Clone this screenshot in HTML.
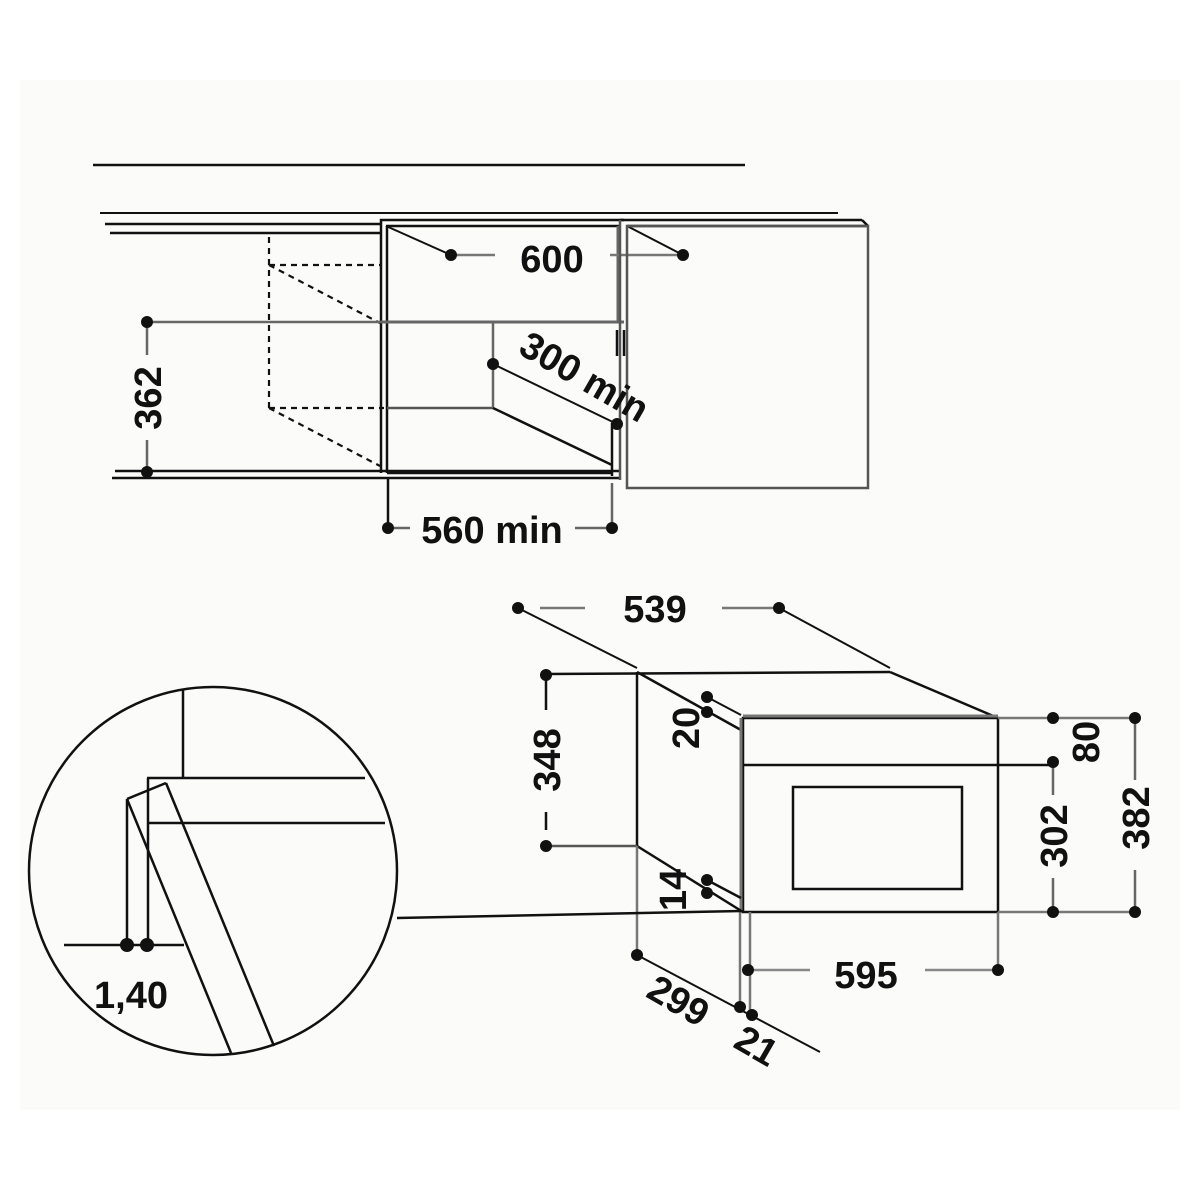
<!DOCTYPE html>
<html><head><meta charset="utf-8"><style>
html,body{margin:0;padding:0;background:#fff;}
svg{display:block;}
text{font-family:"Liberation Sans",Arial,sans-serif;font-weight:bold;fill:#111;}
</style></head><body>
<svg width="1200" height="1200" viewBox="0 0 1200 1200" xmlns="http://www.w3.org/2000/svg">
<rect x="20" y="80" width="1160" height="1030" fill="#fbfbfa"/>
<g stroke="#111" stroke-width="2.5" fill="none">
<line x1="93" y1="165" x2="745" y2="165"/>
<line x1="100" y1="213" x2="838" y2="213" stroke-width="2"/>
<line x1="105" y1="224" x2="381" y2="224"/>
<line x1="110" y1="233" x2="381" y2="233"/>
<polyline points="381,473 381,220 624,220"/>
<line x1="386" y1="226" x2="620" y2="226"/>
<line x1="387" y1="226" x2="387" y2="473"/>
<line x1="387" y1="473" x2="612" y2="473"/>
<line x1="381" y1="322" x2="624" y2="322" stroke="#666" stroke-width="3"/>
<line x1="618" y1="226" x2="618" y2="322" stroke="#666" stroke-width="3"/>
<line x1="617" y1="330" x2="617" y2="356"/><line x1="624" y1="330" x2="624" y2="356"/>
<line x1="387" y1="408" x2="493" y2="408" stroke="#555"/>
<line x1="493" y1="322" x2="493" y2="408" stroke="#666"/>
<line x1="493" y1="408" x2="612" y2="465"/>
<line x1="493" y1="364" x2="617" y2="424" stroke-width="2"/>
<line x1="386" y1="226" x2="451" y2="255" stroke-width="2"/>
<line x1="451" y1="255" x2="495" y2="255" stroke="#777"/>
<line x1="610" y1="255" x2="683" y2="255" stroke="#777"/>
<line x1="627" y1="226" x2="683" y2="255" stroke-width="2"/>
<g stroke-dasharray="6,5" stroke-width="2.2">
<line x1="269" y1="237" x2="269" y2="408"/>
<line x1="269" y1="265" x2="380" y2="265"/>
<line x1="269" y1="265" x2="380" y2="323"/>
<line x1="269" y1="408" x2="384" y2="408"/>
<line x1="269" y1="408" x2="380" y2="466"/>
</g>
<line x1="147" y1="322" x2="381" y2="322" stroke="#666"/>
<line x1="147" y1="322" x2="147" y2="355" stroke="#666"/>
<line x1="147" y1="440" x2="147" y2="472" stroke="#666"/>
<line x1="115" y1="471" x2="620" y2="471"/>
<line x1="112" y1="478" x2="620" y2="478"/>
<line x1="620" y1="220" x2="862" y2="220"/>
<line x1="627" y1="226" x2="868" y2="226"/>
<line x1="862" y1="220" x2="868" y2="226"/>
<rect x="627" y="226" width="241" height="262" stroke="#555"/>
<line x1="620" y1="220" x2="620" y2="480" stroke="#555"/>
<line x1="612" y1="423" x2="612" y2="476"/>
<line x1="388" y1="478" x2="388" y2="528"/>
<line x1="612" y1="483" x2="612" y2="528" stroke="#666"/>
<line x1="388" y1="528" x2="410" y2="528" stroke="#666"/>
<line x1="575" y1="528" x2="612" y2="528" stroke="#666"/>

<line x1="518" y1="608" x2="637" y2="668" stroke-width="2"/>
<line x1="779" y1="608" x2="890" y2="668" stroke-width="2"/>
<line x1="540" y1="608" x2="585" y2="608" stroke="#777"/>
<line x1="722" y1="608" x2="779" y2="608" stroke="#777"/>
<line x1="546" y1="674" x2="890" y2="672"/>
<line x1="637" y1="672" x2="637" y2="846"/>
<line x1="637" y1="672" x2="741" y2="730"/>
<line x1="890" y1="672" x2="998" y2="718"/>
<rect x="743" y="718" width="255" height="194"/>
<line x1="743" y1="716" x2="998" y2="716" stroke="#777" stroke-width="3"/>
<line x1="741" y1="718" x2="741" y2="912" stroke="#777" stroke-width="3"/>
<line x1="743" y1="765" x2="1053" y2="765"/>
<rect x="793" y="787" width="169" height="102"/>
<line x1="546" y1="846" x2="637" y2="846" stroke="#555"/>
<line x1="637" y1="846" x2="743" y2="912"/>
<line x1="707" y1="880" x2="741" y2="898"/>
<line x1="546" y1="675" x2="546" y2="710"/>
<line x1="546" y1="812" x2="546" y2="830"/>
<line x1="707" y1="697" x2="741" y2="715" stroke-width="2"/>
<line x1="998" y1="718" x2="1135" y2="718" stroke="#777"/>
<line x1="998" y1="912" x2="1135" y2="912" stroke="#777"/>
<line x1="1053" y1="765" x2="1053" y2="795" stroke="#666"/>
<line x1="1053" y1="878" x2="1053" y2="912" stroke="#666"/>
<line x1="1135" y1="718" x2="1135" y2="780" stroke="#666"/>
<line x1="1135" y1="870" x2="1135" y2="912" stroke="#666"/>
<line x1="740" y1="912" x2="740" y2="1007" stroke="#777"/>
<line x1="750" y1="912" x2="750" y2="1015" stroke="#777"/>
<line x1="998" y1="912" x2="998" y2="970" stroke="#777"/>
<line x1="750" y1="970" x2="810" y2="970" stroke="#888"/>
<line x1="925" y1="970" x2="998" y2="970" stroke="#888"/>
<line x1="637" y1="846" x2="637" y2="955" stroke="#777"/>
<line x1="637" y1="955" x2="820" y2="1052" stroke-width="2"/>
<line x1="397" y1="918" x2="741" y2="911"/>
<circle cx="213" cy="871" r="184"/>
<line x1="183" y1="690" x2="183" y2="778"/>
<line x1="147" y1="778" x2="365" y2="778"/>
<line x1="148" y1="823" x2="385" y2="823"/>
<line x1="148" y1="778" x2="148" y2="945"/>
<line x1="127" y1="799" x2="166" y2="783"/>
<line x1="127" y1="799" x2="231" y2="1053"/>
<line x1="166" y1="783" x2="274" y2="1046"/>
<line x1="127" y1="799" x2="127" y2="945"/>
<line x1="64" y1="945" x2="184" y2="945"/>
</g>
<g fill="#111">
<circle cx="451" cy="255" r="6"/><circle cx="683" cy="255" r="6"/>
<circle cx="147" cy="322" r="6"/><circle cx="147" cy="472" r="6"/>
<circle cx="493" cy="364" r="6"/><circle cx="617" cy="424" r="6"/>
<circle cx="388" cy="528" r="6"/><circle cx="612" cy="528" r="6"/>
<circle cx="518" cy="608" r="6"/><circle cx="779" cy="608" r="6"/>
<circle cx="546" cy="675" r="6"/><circle cx="546" cy="846" r="6"/>
<circle cx="707" cy="697" r="6"/><circle cx="707" cy="712" r="6"/>
<circle cx="707" cy="880" r="6"/><circle cx="707" cy="893" r="6"/>
<circle cx="1053" cy="718" r="6"/><circle cx="1135" cy="718" r="6"/>
<circle cx="1053" cy="762" r="6"/>
<circle cx="1053" cy="912" r="6"/><circle cx="1135" cy="912" r="6"/>
<circle cx="748" cy="970" r="6"/><circle cx="998" cy="970" r="6"/>
<circle cx="637" cy="955" r="6"/><circle cx="740" cy="1007" r="6"/><circle cx="752" cy="1015" r="6"/>
<circle cx="127" cy="945" r="7"/><circle cx="147" cy="945" r="7"/>
</g>
<g font-size="38">
<text x="552" y="272" text-anchor="middle">600</text>
<text transform="translate(161,398) rotate(-90)" text-anchor="middle">362</text>
<text transform="translate(578,388) rotate(30)" text-anchor="middle">300 min</text>
<text x="492" y="543" text-anchor="middle">560 min</text>
<text x="655" y="622" text-anchor="middle">539</text>
<text transform="translate(560,760) rotate(-90)" text-anchor="middle">348</text>
<text transform="translate(699,728) rotate(-90)" text-anchor="middle">20</text>
<text transform="translate(686,890) rotate(-90)" text-anchor="middle">14</text>
<text transform="translate(1099,742) rotate(-90)" text-anchor="middle">80</text>
<text transform="translate(1067,836) rotate(-90)" text-anchor="middle">302</text>
<text transform="translate(1149,818) rotate(-90)" text-anchor="middle">382</text>
<text x="866" y="988" text-anchor="middle">595</text>
<text transform="translate(672,1012) rotate(30)" text-anchor="middle">299</text>
<text transform="translate(750,1057) rotate(30)" text-anchor="middle">21</text>
<text x="131" y="1008" text-anchor="middle">1,40</text>
</g>
</svg>
</body></html>
